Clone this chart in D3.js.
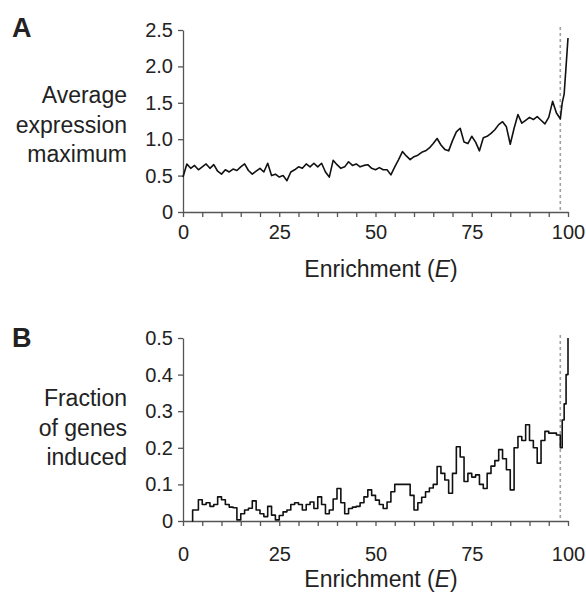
<!DOCTYPE html>
<html>
<head>
<meta charset="utf-8">
<script src="https://cdn.jsdelivr.net/npm/d3@7"></script>
<style>
	body { margin: 0; background: #fff; }
	svg { display: block; }
	text { font-family: "Liberation Sans", Arial, sans-serif; fill: #222; }
</style>
</head>
<body>
<div id="chart"></div>
<script>
// panel A: average expression maximum vs enrichment
var enrichA = [0, 1, 2, 3, 4, 5, 6, 7, 8, 9, 10, 11, 12, 13, 14, 15, 16, 17, 18, 19,
	20, 21, 22, 23, 24, 25, 26, 27, 28, 29, 30, 31, 32, 33, 34, 35, 36, 37, 38, 39,
	40, 41, 42, 43, 44, 45, 46, 47, 48, 49, 50, 51, 52, 53, 54, 55, 56, 57, 58, 59,
	60, 61, 62, 63, 64, 65, 66, 67, 68, 69, 70, 71, 72, 73, 74, 75, 76, 77, 78, 79,
	80, 81, 82, 83, 84, 85, 86, 87, 88, 89, 90, 91, 92, 93, 94, 95, 96, 97, 98, 98.5,
	99, 99.5, 100];
var exprA = [0.48, 0.66, 0.60, 0.64, 0.58, 0.62, 0.66, 0.60, 0.65, 0.56, 0.52, 0.58, 0.55, 0.59, 0.57, 0.62, 0.66, 0.57, 0.52, 0.56,
	0.60, 0.55, 0.67, 0.50, 0.52, 0.48, 0.50, 0.43, 0.55, 0.58, 0.62, 0.60, 0.66, 0.62, 0.67, 0.62, 0.67, 0.55, 0.48, 0.71,
	0.65, 0.60, 0.62, 0.69, 0.64, 0.66, 0.62, 0.64, 0.65, 0.60, 0.58, 0.61, 0.58, 0.58, 0.51, 0.62, 0.72, 0.83, 0.77, 0.72,
	0.76, 0.78, 0.82, 0.84, 0.88, 0.94, 1.01, 0.92, 0.86, 0.84, 0.98, 1.10, 1.15, 0.96, 0.94, 1.04, 0.96, 0.84, 1.02, 1.04,
	1.08, 1.13, 1.20, 1.24, 1.17, 0.93, 1.15, 1.34, 1.22, 1.26, 1.30, 1.27, 1.31, 1.26, 1.21, 1.30, 1.52, 1.36, 1.28, 1.50,
	1.62, 2.00, 2.39];

// panel B: fraction of genes induced vs enrichment
var enrichB = [2.3, 2.5, 3, 4, 5, 6, 7, 8, 9, 10, 11, 12, 13, 14, 15, 16, 17, 18, 19,
	20, 21, 22, 23, 24, 25, 26, 27, 28, 29, 30, 31, 32, 33, 34, 35, 36, 37, 38, 39,
	40, 41, 42, 43, 44, 45, 46, 47, 48, 49, 50, 51, 52, 53, 54, 55, 56, 57, 58, 59,
	60, 61, 62, 63, 64, 65, 66, 67, 68, 69, 70, 71, 72, 73, 74, 75, 76, 77, 78, 79,
	80, 81, 82, 83, 84, 85, 86, 87, 88, 89, 90, 91, 92, 93, 94, 95, 96, 97, 98, 98.5,
	99, 99.5, 100];
var fracB = [0, 0.03, 0.03, 0.058, 0.045, 0.05, 0.04, 0.045, 0.066, 0.058, 0.045, 0.038, 0.036, 0.003, 0.02, 0.03, 0.035, 0.055, 0.03,
	0.02, 0.012, 0.04, 0.016, 0.003, 0.015, 0.025, 0.03, 0.045, 0.05, 0.045, 0.03, 0.045, 0.052, 0.034, 0.066, 0.045, 0.02, 0.03, 0.06,
	0.089, 0.05, 0.02, 0.034, 0.038, 0.04, 0.05, 0.066, 0.085, 0.07, 0.057, 0.045, 0.034, 0.052, 0.08, 0.1, 0.1, 0.1, 0.1, 0.07,
	0.03, 0.05, 0.065, 0.08, 0.09, 0.1, 0.149, 0.13, 0.112, 0.076, 0.13, 0.203, 0.175, 0.108, 0.13, 0.12, 0.126, 0.1, 0.089, 0.13,
	0.15, 0.165, 0.195, 0.17, 0.14, 0.085, 0.2, 0.231, 0.22, 0.263, 0.22, 0.2, 0.158, 0.22, 0.245, 0.24, 0.24, 0.235, 0.2, 0.276,
	0.32, 0.4, 0.5];

var xTicks = [0, 5, 10, 15, 20, 25, 30, 35, 40, 45, 50, 55, 60, 65, 70, 75, 80, 85, 90, 95, 100];
var xLabels = [0, 25, 50, 75, 100];
var yTicksA = [0, 0.5, 1.0, 1.5, 2.0, 2.5];
var yTicksB = [0, 0.1, 0.2, 0.3, 0.4, 0.5];
var cutoff = 98; // dashed marker
var yTitleA = ["Average", "expression", "maximum"];
var yTitleB = ["Fraction", "of genes", "induced"];

var width = 586, height = 603;
var axisColor = "#555";

var svg = d3.select("#chart").append("svg")
	.attr("width", width).attr("height", height);

function fmt(d) {
	return d === 0 ? "0" : d3.format(".1f")(d);
}

function drawPanel(opt) {
	var x = d3.scaleLinear().domain([0, 100]).range([183, 568]);
	var y = d3.scaleLinear().domain(opt.yDomain).range([opt.bottom, opt.top]);
	var g = svg.append("g");

	// dashed cutoff line
	g.append("line")
		.attr("x1", x(cutoff)).attr("x2", x(cutoff))
		.attr("y1", opt.top - 3).attr("y2", opt.bottom)
		.attr("stroke", "#a0a0a0").attr("stroke-width", 1.6)
		.attr("stroke-dasharray", "3,3");

	var xAxis = d3.axisBottom(x).tickValues(xTicks).tickSize(5).tickSizeOuter(0)
		.tickPadding(opt.xPad)
		.tickFormat(function(d) { return xLabels.indexOf(d) >= 0 ? d : ""; });
	var gx = g.append("g").attr("transform", "translate(0," + opt.bottom + ")").call(xAxis);

	var yAxis = d3.axisLeft(y).tickValues(opt.yTicks).tickSize(5).tickSizeOuter(0)
		.tickPadding(5).tickFormat(fmt);
	var gy = g.append("g").attr("transform", "translate(183,0)").call(yAxis);

	[gx, gy].forEach(function(a) {
		a.selectAll("path, line").attr("stroke", axisColor).attr("stroke-width", 1.3);
		a.selectAll("text").attr("font-size", "20px").attr("fill", "#222")
			.attr("font-family", "'Liberation Sans', Arial, sans-serif");
	});

	var line = d3.line()
		.x(function(d) { return x(d[0]); })
		.y(function(d) { return y(d[1]); })
		.curve(opt.curve);
	var pts = opt.xs.map(function(v, i) { return [v, opt.ys[i]]; });
	g.append("path").datum(pts)
		.attr("d", line)
		.attr("fill", "none")
		.attr("stroke", "#111")
		.attr("stroke-width", 1.6)
		.attr("stroke-linejoin", "round");

	// x title
	var xt = g.append("text")
		.attr("x", 381).attr("y", opt.bottom + opt.titleOff)
		.attr("text-anchor", "middle").attr("font-size", "23px");
	xt.append("tspan").text("Enrichment (");
	xt.append("tspan").attr("font-style", "italic").text("E");
	xt.append("tspan").text(")");

	// y title, three right-aligned lines
	g.selectAll("text.ytitle").data(opt.yTitle).enter().append("text")
		.attr("class", "ytitle")
		.attr("x", 127)
		.attr("y", function(d, i) { return opt.titleY + i * 29.5; })
		.attr("text-anchor", "end").attr("font-size", "23px")
		.text(function(d) { return d; });

	// panel letter
	g.append("text").attr("x", 12).attr("y", opt.letterY)
		.attr("font-size", "27px").attr("font-weight", "bold")
		.attr("fill", "#111").text(opt.letter);
}

drawPanel({
	letter: "A", letterY: 37,
	xs: enrichA, ys: exprA,
	yDomain: [0, 2.5], yTicks: yTicksA,
	top: 30, bottom: 212, xPad: 8, titleOff: 65,
	yTitle: yTitleA, titleY: 103,
	curve: d3.curveLinear
});

drawPanel({
	letter: "B", letterY: 347,
	xs: enrichB, ys: fracB,
	yDomain: [0, 0.5], yTicks: yTicksB,
	top: 338, bottom: 521, xPad: 21, titleOff: 66,
	yTitle: yTitleB, titleY: 406,
	curve: d3.curveStepAfter
});
</script>
</body>
</html>
